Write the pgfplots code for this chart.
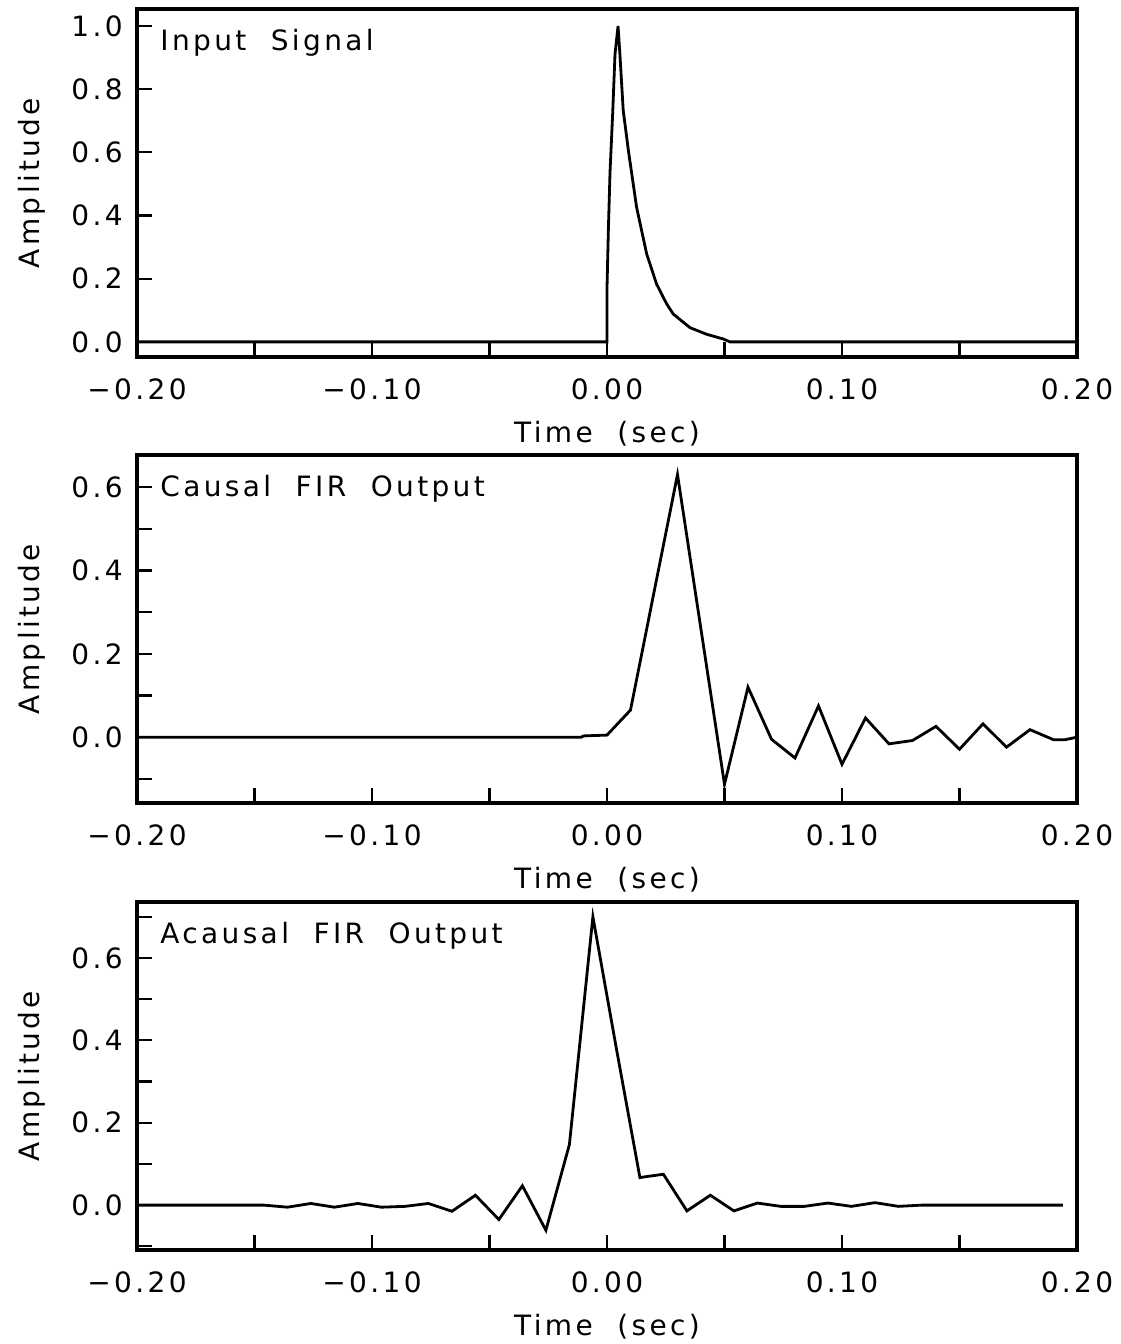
\documentclass[border=0pt]{standalone}
\usepackage{fontspec}
\setmainfont{DejaVu Sans}[LetterSpace=12]
\usepackage{pgfplots}
\pgfplotsset{compat=1.18}

\pgfplotsset{
  firstyle/.style={
    scale only axis, width=470pt, height=174pt,
    anchor=north west,
    xmin=-0.2, xmax=0.2,
    xtick={-0.2,-0.15,-0.1,-0.05,0,0.05,0.1,0.15,0.2},
    xticklabels={−0.20,,−0.10,,0.00,,0.10,,0.20},
    tick align=inside, xtick pos=bottom, ytick pos=left,
    major tick length=7.5pt,
    axis line style={line width=2.2pt},
    every tick/.style={black, line width=1.1pt},
    xlabel={Time~~(sec)}, ylabel={Amplitude},
    xlabel style={at={(axis description cs:0.5,-0.221)}, anchor=center},
    ylabel style={at={(axis description cs:-0.112,0.5)}, anchor=center},
    xticklabel style={anchor=center, yshift=-16pt},
    yticklabel style={anchor=east, inner sep=0pt, xshift=-7pt},
    cycle list={{black, no markers}},
    every axis plot/.append style={line width=1.4pt},
  },
}
\tikzset{plottitle/.style={anchor=west, inner sep=0pt, xshift=11.5pt, yshift=-17pt}}

\begin{document}
\begin{tikzpicture}[font=\fontsize{14}{17}\selectfont]

\begin{axis}[firstyle, at={(0,0)},
  ymin=-0.048, ymax=1.054,
  ytick={0,0.2,0.4,0.6,0.8,1.0},
  yticklabels={0.0,0.2,0.4,0.6,0.8,1.0}]
\addplot coordinates {
  (-0.2,0) (0,0) (0,0.17) (0.0006,0.36) (0.0013,0.54) (0.0024,0.72)
  (0.0034,0.91) (0.0047,1.0) (0.0055,0.91) (0.0069,0.733) (0.0091,0.606)
  (0.0126,0.426) (0.0169,0.278) (0.0211,0.183) (0.0254,0.120) (0.0282,0.088)
  (0.0353,0.045) (0.0424,0.024) (0.0495,0.009) (0.0523,0) (0.2,0)
};
\node[plottitle] at (rel axis cs:0,1) {Input~~Signal};
\end{axis}

\begin{axis}[firstyle, at={(0,-223pt)},
  ymin=-0.158, ymax=0.677,
  ytick={-0.1,0,0.1,0.2,0.3,0.4,0.5,0.6},
  yticklabels={,0.0,,0.2,,0.4,,0.6}]
\addplot coordinates {
  (-0.2,0) (-0.011,0) (-0.01,0.003) (0,0.005) (0.01,0.065) (0.03,0.63)
  (0.05,-0.113) (0.06,0.12) (0.07,-0.005) (0.08,-0.05) (0.09,0.075)
  (0.10,-0.065) (0.11,0.046) (0.12,-0.016) (0.13,-0.008) (0.14,0.026)
  (0.15,-0.029) (0.16,0.032) (0.17,-0.024) (0.18,0.018) (0.19,-0.006)
  (0.195,-0.006) (0.2,0)
};
\node[plottitle] at (rel axis cs:0,1) {Causal~~FIR~~Output};
\end{axis}

\begin{axis}[firstyle, at={(0,-446.5pt)},
  ymin=-0.109, ymax=0.736,
  ytick={-0.1,0,0.1,0.2,0.3,0.4,0.5,0.6,0.7},
  yticklabels={,0.0,,0.2,,0.4,,0.6,}]
\addplot coordinates {
  (-0.2,0) (-0.146,0) (-0.136,-0.005) (-0.126,0.004) (-0.116,-0.005)
  (-0.106,0.004) (-0.096,-0.005) (-0.086,-0.003) (-0.076,0.004)
  (-0.066,-0.015) (-0.056,0.024) (-0.046,-0.035) (-0.036,0.047)
  (-0.026,-0.061) (-0.016,0.147) (-0.006,0.70) (0.004,0.38) (0.014,0.067)
  (0.024,0.075) (0.034,-0.014) (0.044,0.024) (0.054,-0.014) (0.064,0.005)
  (0.074,-0.003) (0.084,-0.003) (0.094,0.005) (0.104,-0.003) (0.114,0.006)
  (0.124,-0.003) (0.134,0) (0.194,0)
};
\node[plottitle] at (rel axis cs:0,1) {Acausal~~FIR~~Output};
\end{axis}

\pgfresetboundingbox
\path[use as bounding box] (-68.5pt,4.5pt) rectangle (491.5pt,-667.5pt);
\end{tikzpicture}
\end{document}
